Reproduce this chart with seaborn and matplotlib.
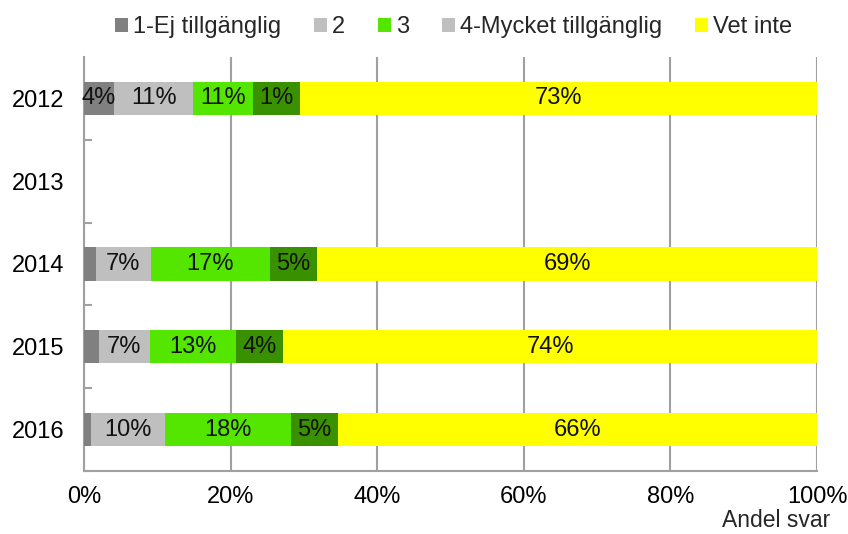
import numpy as np
import pandas as pd
import matplotlib.pyplot as plt
import seaborn as sns
from matplotlib.patches import Patch
from matplotlib.ticker import PercentFormatter, FixedLocator

years = ["2012", "2013", "2014", "2015", "2016"]
series = ["1-Ej tillgänglig", "2", "3", "4-Mycket tillgänglig", "Vet inte"]
# segment widths (share of answers, %) as drawn; 2013 has no data
values = {
    "1-Ej tillgänglig":     [4.1, np.nan, 1.6, 2.0, 1.0],
    "2":                    [10.8, np.nan, 7.5, 7.0, 10.0],
    "3":                    [8.2, np.nan, 16.3, 11.8, 17.2],
    "4-Mycket tillgänglig": [6.4, np.nan, 6.4, 6.4, 6.4],
    "Vet inte":             [70.5, np.nan, 68.2, 72.8, 65.4],
}
# data labels as printed on the bars
labels = {
    "1-Ej tillgänglig":     ["4%", "", "", "", ""],
    "2":                    ["11%", "", "7%", "7%", "10%"],
    "3":                    ["11%", "", "17%", "13%", "18%"],
    "4-Mycket tillgänglig": ["1%", "", "5%", "4%", "5%"],
    "Vet inte":             ["73%", "", "69%", "74%", "66%"],
}
bar_colors = ["#808080", "#BFBFBF", "#55E600", "#3A9100", "#FFFF00"]
legend_colors = ["#808080", "#BFBFBF", "#55E600", "#BFBFBF", "#FFFF00"]

df = pd.DataFrame(values, index=years)
cum = df.cumsum(axis=1)
left = cum - df

sns.set_style("white")
plt.rcParams["font.family"] = ["Liberation Sans", "DejaVu Sans"]
FS = 17

fig = plt.figure(figsize=(8.48, 5.34), dpi=100)
ax = fig.add_axes([84/848, 1-471/534, 733/848, 414/534])

# draw cumulative layers from the outermost inward so each overlaps the next
for s, c in reversed(list(zip(series, bar_colors))):
    d = pd.DataFrame({"year": years, "val": cum[s].values})
    d = d.dropna()
    sns.barplot(data=d, x="val", y="year", order=years, orient="h",
                color=c, saturation=1, width=0.4, linewidth=0, ax=ax, zorder=3)

for s in series:
    for i, y in enumerate(years):
        lab = labels[s][i]
        if lab:
            xc = left.loc[y, s] + df.loc[y, s] / 2
            ax.text(xc, i, lab, ha="center", va="center", fontsize=FS,
                    color="#111111", zorder=5)

ax.set_xlim(0, 100)
ax.set_ylim(4.5, -0.5)
ax.xaxis.set_major_locator(FixedLocator([0, 20, 40, 60, 80, 100]))
ax.xaxis.set_major_formatter(PercentFormatter(decimals=0))
ax.set_xlabel("")
ax.set_ylabel("")

ax.grid(axis="x", color="#A0A0A0", linewidth=1.5, zorder=0)
ax.grid(axis="y", visible=False)
ax.set_axisbelow(True)
for side in ["top", "right"]:
    ax.spines[side].set_visible(False)
for side in ["left", "bottom"]:
    ax.spines[side].set_color("#A0A0A0")
    ax.spines[side].set_linewidth(1.5)

ax.tick_params(axis="y", which="major", length=0, pad=14, labelsize=FS, labelcolor="black")
ax.tick_params(axis="x", which="major", length=0, pad=11, labelsize=FS, labelcolor="black")
ax.yaxis.set_minor_locator(FixedLocator([0.5, 1.5, 2.5, 3.5, 4.5]))
ax.tick_params(axis="y", which="minor", length=6, width=1.5, direction="in", color="#A0A0A0", left=True)

handles = [Patch(facecolor=c, edgecolor="none") for c in legend_colors]
ax.legend(handles, series, loc="center", bbox_to_anchor=(0.504, 1.072), ncol=5,
          frameon=False, fontsize=FS, handlelength=0.55, handleheight=0.55,
          handletextpad=0.2, columnspacing=1.4)

fig.text(830/848, 1-527/534, "Andel svar", ha="right", va="baseline", fontsize=16.5)

fig.savefig("out.png", dpi=100)
